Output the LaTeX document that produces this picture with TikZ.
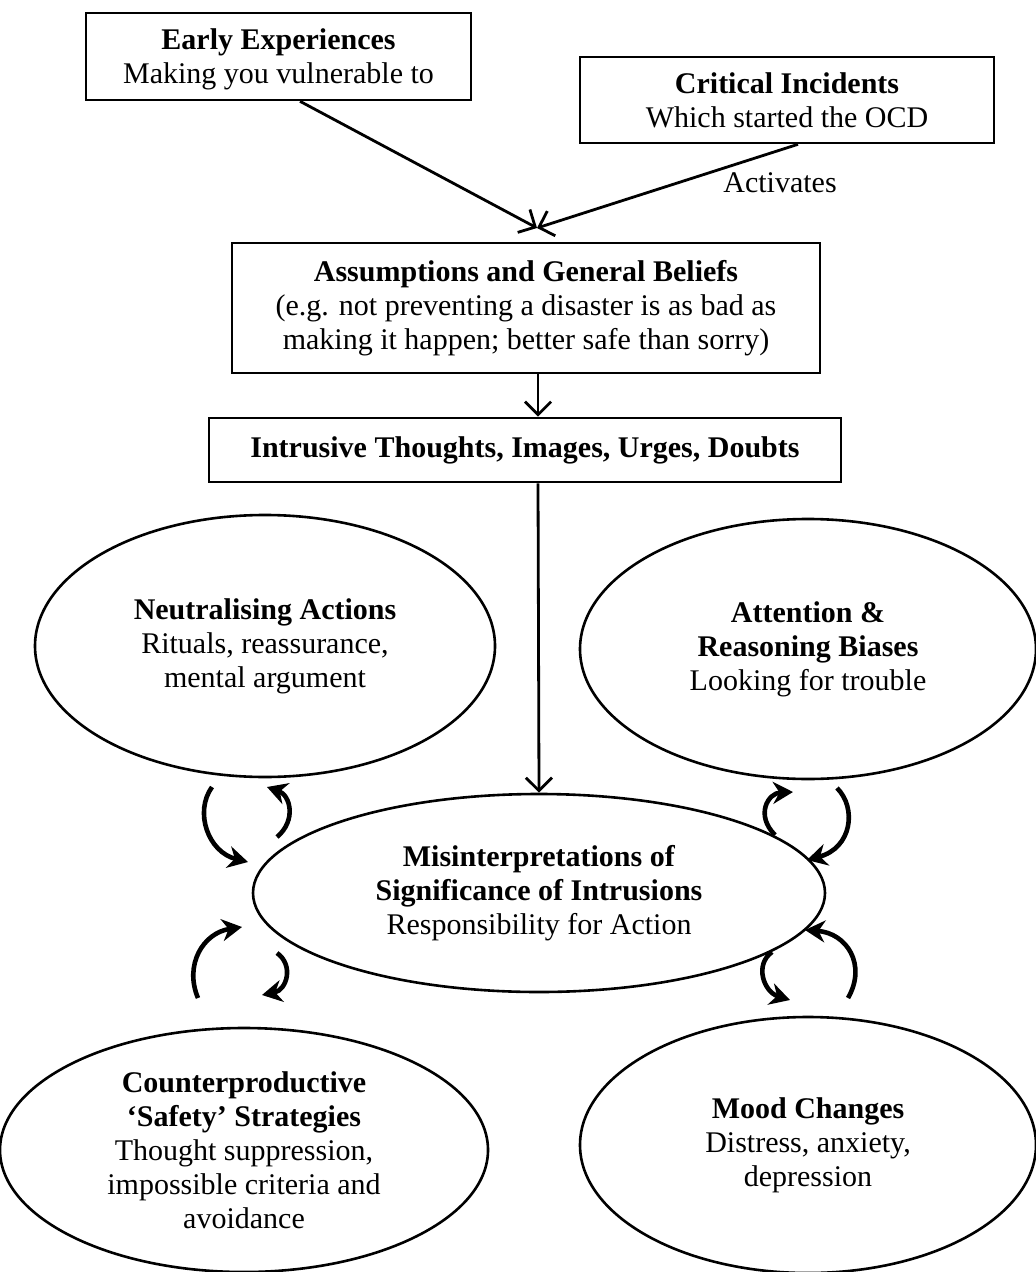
\documentclass[tikz,border=0pt]{standalone}
\usepackage{fontspec}
\setmainfont{Liberation Serif}
\usetikzlibrary{arrows.meta,shapes.geometric}
\begin{document}
\begin{tikzpicture}[x=0.5pt,y=-0.5pt,
  every node/.style={font=\fontsize{15}{17}\selectfont, align=center, inner sep=0pt},
  rbox/.style={draw, line width=1.3pt, rectangle},
  oval/.style={draw, line width=1.3pt, ellipse},
  arr/.style={line width=1.4pt, -{Straight Barb[length=6.5pt,width=13pt,line width=1.4pt]}},
  cyc/.style={line width=2.3pt, -{Stealth[length=10pt,width=11pt]}}]
\useasboundingbox (0,0) rectangle (1035,1272);
% boxes
\node[rbox, minimum width=192.5pt, minimum height=43.5pt] (early) at (278.5,56.5)
  {\rule{0pt}{13pt}\textbf{Early Experiences}\\Making you vulnerable to};
\node[rbox, minimum width=207pt, minimum height=43pt] (crit) at (787,100)
  {\textbf{Critical Incidents}\\Which started the OCD};
\node (act) at (780,183) {Activates};
\node[rbox, minimum width=294pt, minimum height=65pt] (assump) at (526,308)
  {\textbf{Assumptions and General Beliefs}\\(e.g. not preventing a disaster is as bad as\\making it happen; better safe than sorry)};
\node[rbox, minimum width=316pt, minimum height=32pt] (intr) at (525,450)
  {\textbf{Intrusive Thoughts, Images, Urges, Doubts}};
% ellipses
\node[oval, minimum width=230pt, minimum height=131pt] (neut) at (265,646)
  {\textbf{Neutralising Actions}\\Rituals, reassurance,\\mental argument};
\node[oval, minimum width=228pt, minimum height=130pt] (att) at (808,649)
  {\textbf{Attention \&}\\\textbf{Reasoning Biases}\\Looking for trouble};
\node[oval, minimum width=286pt, minimum height=99pt] (mis) at (539,893)
  {\textbf{Misinterpretations of}\\\textbf{Significance of Intrusions}\\Responsibility for Action};
\node[oval, minimum width=244pt, minimum height=122pt] (counter) at (244,1150)
  {\textbf{Counterproductive}\\\textbf{‘Safety’ Strategies}\\Thought suppression,\\impossible criteria and\\avoidance};
\node[oval, minimum width=228pt, minimum height=128pt] (mood) at (808,1145)
  {\textbf{Mood Changes}\\Distress, anxiety,\\depression};
% straight connectors
\coordinate (meet) at (537,228);
\draw[arr] ([xshift=10.75pt]early.south) -- (meet);
\draw[arr] ([xshift=5.5pt]crit.south) -- (meet);
\draw[arr] ([xshift=6pt]assump.south) -- ([xshift=6.5pt]intr.north);
\draw[arr] ([xshift=6.5pt]intr.south) -- (mis.north);
% cycle arrows
\draw[cyc] (212,787) .. controls (194,812) and (208,852) .. (248,862);
\draw[cyc] (277,837) .. controls (297,820) and (290,795) .. (267,787);
\draw[cyc] (775,835) .. controls (755,815) and (768,793) .. (793,792);
\draw[cyc] (837,788) .. controls (857,808) and (852,848) .. (807,860);
\draw[cyc] (198,998) .. controls (184,965) and (203,933) .. (242,927);
\draw[cyc] (277,953) .. controls (294,965) and (287,990) .. (262,995);
\draw[cyc] (772,952) .. controls (754,965) and (764,992) .. (790,1000);
\draw[cyc] (848,998) .. controls (867,965) and (847,933) .. (805,930);
\end{tikzpicture}
\end{document}
